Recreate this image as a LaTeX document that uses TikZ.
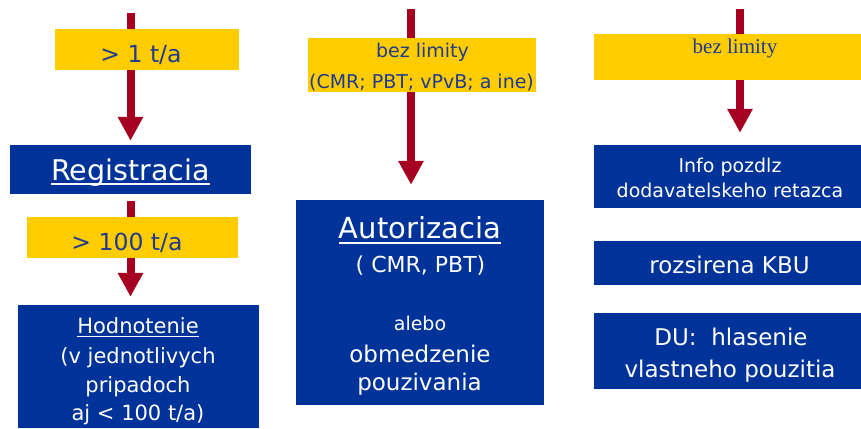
\documentclass[tikz,border=0pt]{standalone}
\usepackage{fontspec}
\setmainfont{DejaVu Sans}
\newfontfamily\serifb{Liberation Serif}
\usetikzlibrary{arrows.meta}
\definecolor{boxblue}{HTML}{003399}
\definecolor{boxyellow}{HTML}{FFCC00}
\definecolor{arrowred}{HTML}{A50021}
\definecolor{ytext}{HTML}{1F3A8F}
\tikzset{
  bluebox/.style={fill=boxblue, draw=none, inner sep=0},
  yellowbox/.style={fill=boxyellow, draw=none, inner sep=0},
  txt/.style={inner sep=0, anchor=base, text=white, font=\fontsize{#1bp}{#1bp}\selectfont},
  ytxt/.style={inner sep=0, anchor=base, text=ytext, font=\fontsize{#1bp}{#1bp}\selectfont},
  arr/.style={draw=arrowred, line width=8bp, -{Triangle[length=24bp,width=24bp]}},
  uline/.style={draw=white, line width=1.6bp}
}
\begin{document}
\begin{tikzpicture}[x=1bp, y=-1bp]
\useasboundingbox (0,0) rectangle (861,428);
% blue boxes
\node[bluebox, minimum width=241bp, minimum height=49bp] (reg) at (130.5,169.5) {};
\node[bluebox, minimum width=241bp, minimum height=123bp] (hod) at (138.5,366.5) {};
\node[bluebox, minimum width=248bp, minimum height=205bp] (aut) at (420,302.5) {};
\node[bluebox, minimum width=267bp, minimum height=63bp] (info) at (727.5,176.5) {};
\node[bluebox, minimum width=267bp, minimum height=44bp] (kbu) at (727.5,263) {};
\node[bluebox, minimum width=267bp, minimum height=76bp] (du) at (727.5,351) {};
% arrow start points
\coordinate (s1) at (130.5,13);
\coordinate (s2) at (130.5,201);
\coordinate (s3) at (411,9);
\coordinate (s4) at (740,9);
% arrows
\draw[arr, shorten >=4bp] (s1) -- (reg.north -| s1);
\draw[arr, shorten >=8bp] (s2) -- (hod.north -| s2);
\draw[arr, shorten >=15bp] (s3) -- (aut.north -| s3);
\draw[arr, shorten >=12bp] (s4) -- (info.north -| s4);
% yellow boxes
\node[yellowbox, minimum width=184bp, minimum height=41bp] (y1) at (147,49.5) {};
\node[yellowbox, minimum width=211bp, minimum height=41bp] (y2) at (132.5,237.5) {};
\node[yellowbox, minimum width=228bp, minimum height=54bp] (y3) at (422,65) {};
\node[yellowbox, minimum width=267bp, minimum height=46bp] (y4) at (727.5,57) {};
% yellow texts
\node[ytxt=23.5] (t1) at (141,62) {> 1 t/a};
\node[ytxt=23.5] (t2) at (127,250) {> 100 t/a};
\node[ytxt=19] (t3a) at (422.5,57) {bez limity};
\node[ytxt=19] (t3b) at (421.5,88) {(CMR; PBT; vPvB; a ine)};
\node[inner sep=0, anchor=base, text=ytext, font=\serifb\fontsize{21bp}{21bp}\selectfont] (t4) at (735,53) {bez limity};
% blue texts
\node[txt=28.5] (regt) at (130.5,180) {Registracia};
\draw[uline] ([yshift=-4bp]regt.base west) -- ([yshift=-4bp]regt.base east);
\node[txt=21] (hodt) at (138,333) {Hodnotenie};
\draw[uline] ([yshift=-3.5bp]hodt.base west) -- ([yshift=-3.5bp]hodt.base east);
\node[txt=21] (hod2) at (138,363) {(v jednotlivych};
\node[txt=21] (hod3) at (138,392) {pripadoch};
\node[txt=21] (hod4) at (138,420) {aj < 100 t/a)};
\node[txt=29] (autt) at (420,238) {Autorizacia};
\draw[uline] ([yshift=-5bp]autt.base west) -- ([yshift=-5bp]autt.base east);
\node[txt=22] (aut2) at (420.5,272) {( CMR, PBT)};
\node[txt=19] (aut3) at (420,330) {alebo};
\node[txt=23] (aut4) at (420,362) {obmedzenie};
\node[txt=23] (aut5) at (419.5,390) {pouzivania};
\node[txt=19] (info1) at (730,172) {Info pozdlz};
\node[txt=19] (info2) at (730,197) {dodavatelskeho retazca};
\node[txt=23] (kbut) at (729.5,273) {rozsirena KBU};
\node[txt=23] (du1) at (731,345) {DU:\ \ hlasenie};
\node[txt=23] (du2) at (730,377) {vlastneho pouzitia};
\end{tikzpicture}
\end{document}
